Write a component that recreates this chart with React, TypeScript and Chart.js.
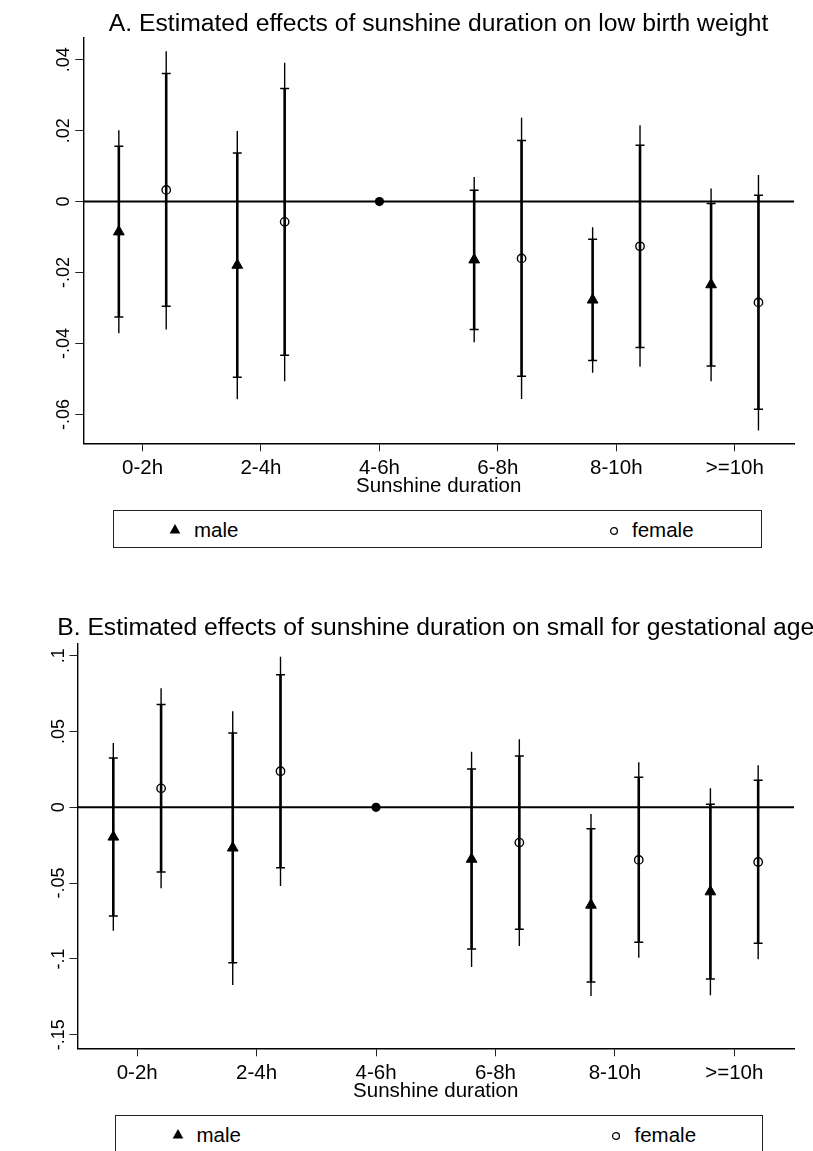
import React, { useEffect, useRef } from "react";
import { Chart, registerables } from "chart.js";

Chart.register(...registerables);

const FONT = '"Liberation Sans", Arial, Helvetica, sans-serif';
Chart.defaults.font.family = FONT;
Chart.defaults.color = "#000";

// ---------------- data ----------------
const categories = ["0-2h", "2-4h", "4-6h", "6-8h", "8-10h", ">=10h"];
const axisTitle = "Sunshine duration";
const legendLabels = ["male", "female"];
const referenceEst = [null, null, 0, null, null, null];

// Panel A: low birth weight
const titleA = "A. Estimated effects of sunshine duration on low birth weight";
const yTicksA = [-0.06, -0.04, -0.02, 0, 0.02, 0.04];
const yTickLabelsA = ["-.06", "-.04", "-.02", "0", ".02", ".04"];
const maleEstA = [-0.0085, -0.0179, null, -0.0164, -0.0277, -0.0234];
const maleLo90A = [-0.0325, -0.0495, null, -0.036, -0.0448, -0.0463];
const maleHi90A = [0.0156, 0.0137, null, 0.0032, -0.0106, -0.0005];
const maleLo95A = [-0.0371, -0.0557, null, -0.0396, -0.0482, -0.0506];
const maleHi95A = [0.0201, 0.0199, null, 0.0069, -0.0072, 0.0037];
const femaleEstA = [0.0033, -0.0057, null, -0.016, -0.0126, -0.0284];
const femaleLo90A = [-0.0295, -0.0433, null, -0.0492, -0.0411, -0.0585];
const femaleHi90A = [0.0361, 0.0319, null, 0.0172, 0.0159, 0.0018];
const femaleLo95A = [-0.036, -0.0506, null, -0.0556, -0.0465, -0.0645];
const femaleHi95A = [0.0424, 0.0391, null, 0.0236, 0.0215, 0.0075];

// Panel B: small for gestational age
const titleB = "B. Estimated effects of sunshine duration on small for gestational age";
const yTicksB = [-0.15, -0.1, -0.05, 0, 0.05, 0.1];
const yTickLabelsB = ["-.15", "-.1", "-.05", "0", ".05", ".1"];
const maleEstB = [-0.0196, -0.0268, null, -0.0342, -0.0645, -0.0557];
const maleLo90B = [-0.0717, -0.1025, null, -0.0935, -0.1152, -0.1133];
const maleHi90B = [0.0325, 0.049, null, 0.0253, -0.0141, 0.002];
const maleLo95B = [-0.0814, -0.1172, null, -0.1053, -0.1245, -0.124];
const maleHi95B = [0.0424, 0.0633, null, 0.0367, -0.0044, 0.0125];
const femaleEstB = [0.0125, 0.0238, null, -0.0233, -0.0347, -0.0361];
const femaleLo90B = [-0.0427, -0.0398, null, -0.0805, -0.089, -0.0897];
const femaleHi90B = [0.0679, 0.0875, null, 0.0338, 0.0198, 0.0178];
const femaleLo95B = [-0.0534, -0.0519, null, -0.0915, -0.0992, -0.1003];
const femaleHi95B = [0.0785, 0.0993, null, 0.0449, 0.0297, 0.0277];

// ---------------- layout ----------------
const MALE_OFFSET = -0.2;
const FEMALE_OFFSET = 0.2;
const X_MIN = 0.5;
const X_MAX = 6.5;
const LABEL_SIZE = 20.5;
const TITLE_SIZE = 24.7;

type Series = { est: (number | null)[]; lo90: (number | null)[]; hi90: (number | null)[]; lo95: (number | null)[]; hi95: (number | null)[] };
type PanelSpec = {
  title: string;
  yTicks: number[];
  yTickLabels: string[];
  yMin: number;
  yMax: number;
  male: Series;
  female: Series;
  top: number;
  canvasH: number;
  padTop: number;
  padBottom: number;
  yWidth: number;
  titleBaseline: number;
  legendTop: number;
  legendLeft: number;
  legendWidth: number;
};

const panels: PanelSpec[] = [
  {
    title: titleA,
    yTicks: yTicksA,
    yTickLabels: yTickLabelsA,
    yMin: -0.0681,
    yMax: 0.0461,
    male: { est: maleEstA, lo90: maleLo90A, hi90: maleHi90A, lo95: maleLo95A, hi95: maleHi95A },
    female: { est: femaleEstA, lo90: femaleLo90A, hi90: femaleHi90A, lo95: femaleLo95A, hi95: femaleHi95A },
    top: 0,
    canvasH: 575,
    padTop: 38,
    padBottom: 76,
    yWidth: 83.3,
    titleBaseline: 30.5,
    legendTop: 510,
    legendLeft: 112.5,
    legendWidth: 649,
  },
  {
    title: titleB,
    yTicks: yTicksB,
    yTickLabels: yTickLabelsB,
    yMin: -0.159,
    yMax: 0.1082,
    male: { est: maleEstB, lo90: maleLo90B, hi90: maleHi90B, lo95: maleLo95B, hi95: maleHi95B },
    female: { est: femaleEstB, lo90: femaleLo90B, hi90: femaleHi90B, lo95: femaleLo95B, hi95: femaleHi95B },
    top: 595,
    canvasH: 556,
    padTop: 48.3,
    padBottom: 47,
    yWidth: 77.5,
    titleBaseline: 39.5,
    legendTop: 1115,
    legendLeft: 115,
    legendWidth: 648,
  },
];

function segments(lo: (number | null)[], hi: (number | null)[], off: number) {
  const pts: { x: number; y: number | null }[] = [];
  lo.forEach((l, i) => {
    const h = hi[i];
    if (l == null || h == null) return;
    const x = i + 1 + off;
    pts.push({ x, y: l }, { x, y: h }, { x, y: null });
  });
  return pts;
}
function ends(lo: (number | null)[], hi: (number | null)[], off: number) {
  const pts: { x: number; y: number }[] = [];
  lo.forEach((l, i) => {
    const h = hi[i];
    if (l == null || h == null) return;
    const x = i + 1 + off;
    pts.push({ x, y: l }, { x, y: h });
  });
  return pts;
}
function points(est: (number | null)[], off: number) {
  const pts: { x: number; y: number }[] = [];
  est.forEach((v, i) => {
    if (v == null) return;
    pts.push({ x: i + 1 + off, y: v });
  });
  return pts;
}

function PanelChart({ p }: { p: PanelSpec }) {
  const ref = useRef<HTMLCanvasElement>(null);
  useEffect(() => {
    const canvas = ref.current!;
    const datasets: any[] = [
      {
        label: "reference",
        data: points(referenceEst, 0),
        pointStyle: "circle",
        pointRadius: 4.6,
        backgroundColor: "#000",
        borderColor: "#000",
        borderWidth: 0,
      },
      {
        label: legendLabels[0],
        data: points(p.male.est, MALE_OFFSET),
        pointStyle: "triangle",
        pointRadius: 6.2,
        backgroundColor: "#000",
        borderColor: "#000",
        borderWidth: 1,
      },
      {
        label: legendLabels[1],
        data: points(p.female.est, FEMALE_OFFSET),
        pointStyle: "circle",
        pointRadius: 4.2,
        backgroundColor: "rgba(0,0,0,0)",
        borderColor: "#000",
        borderWidth: 1.4,
      },
      {
        label: "caps",
        data: [...ends(p.male.lo90, p.male.hi90, MALE_OFFSET), ...ends(p.female.lo90, p.female.hi90, FEMALE_OFFSET)],
        pointStyle: "line",
        pointRadius: 4.5,
        borderColor: "#000",
        backgroundColor: "#000",
        borderWidth: 1.5,
      },
      {
        label: "ci90",
        data: [...segments(p.male.lo90, p.male.hi90, MALE_OFFSET), ...segments(p.female.lo90, p.female.hi90, FEMALE_OFFSET)],
        showLine: true,
        spanGaps: false,
        pointRadius: 0,
        borderColor: "#000",
        borderWidth: 2.6,
      },
      {
        label: "ci95",
        data: [...segments(p.male.lo95, p.male.hi95, MALE_OFFSET), ...segments(p.female.lo95, p.female.hi95, FEMALE_OFFSET)],
        showLine: true,
        spanGaps: false,
        pointRadius: 0,
        borderColor: "#000",
        borderWidth: 1.4,
      },
      {
        label: "zero",
        data: [
          { x: X_MIN, y: 0 },
          { x: X_MAX, y: 0 },
        ],
        showLine: true,
        pointRadius: 0,
        borderColor: "#000",
        borderWidth: 2,
      },
    ];

    const decor = {
      id: "decor",
      afterDraw(chart: any) {
        const ctx = chart.ctx;
        const ys = chart.scales.y;
        const ca = chart.chartArea;
        ctx.save();
        ctx.fillStyle = "#000";
        ctx.font = `18px ${FONT}`;
        ctx.textAlign = "center";
        ctx.textBaseline = "alphabetic";
        p.yTicks.forEach((v, i) => {
          const py = ys.getPixelForValue(v);
          ctx.save();
          ctx.translate(ca.left - 14, py);
          ctx.rotate(-Math.PI / 2);
          ctx.fillText(p.yTickLabels[i], 0, 0);
          ctx.restore();
        });
        ctx.font = `${TITLE_SIZE}px ${FONT}`;
        ctx.textAlign = "center";
        ctx.fillText(p.title, (ca.left + ca.right) / 2, p.titleBaseline);
        ctx.restore();
      },
    };

    const chart = new Chart(canvas, {
      type: "scatter",
      data: { datasets },
      plugins: [decor],
      options: {
        animation: false,
        responsive: false,
        events: [],
        layout: { padding: { left: 0, right: 19, top: p.padTop, bottom: p.padBottom } },
        plugins: { legend: { display: false }, tooltip: { enabled: false }, title: { display: false } },
        scales: {
          x: {
            type: "linear",
            min: X_MIN,
            max: X_MAX,
            afterBuildTicks: (s: any) => {
              s.ticks = categories.map((_, i) => ({ value: i + 1 }));
            },
            afterFit: (s: any) => {
              s.height = 55.7;
            },
            ticks: {
              autoSkip: false,
              maxRotation: 0,
              padding: 4.5,
              color: "#000",
              font: { size: LABEL_SIZE },
              callback: (v: any) => categories[Math.round(Number(v)) - 1],
            },
            grid: { drawOnChartArea: false, drawTicks: true, tickLength: 8, color: "#222", lineWidth: 1 },
            border: { display: true, color: "#000", width: 1.4 },
            title: { display: true, text: axisTitle, color: "#000", font: { size: LABEL_SIZE }, padding: { top: 0, bottom: 0 } },
          },
          y: {
            type: "linear",
            min: p.yMin,
            max: p.yMax,
            afterBuildTicks: (s: any) => {
              s.ticks = p.yTicks.map((v) => ({ value: v }));
            },
            afterFit: (s: any) => {
              s.width = p.yWidth;
            },
            ticks: { display: false },
            grid: { drawOnChartArea: false, drawTicks: true, tickLength: 8, color: "#222", lineWidth: 1 },
            border: { display: true, color: "#000", width: 1.4 },
          },
        },
      } as any,
    });
    return () => chart.destroy();
  }, []);
  return (
    <canvas
      ref={ref}
      width={813}
      height={p.canvasH}
      style={{ position: "absolute", left: 0, top: p.top, width: 813, height: p.canvasH }}
    />
  );
}

function Legend({ p }: { p: PanelSpec }) {
  const h = 38;
  const cy = h / 2;
  const textStyle: React.CSSProperties = {
    position: "absolute",
    top: cy - 12,
    height: 24,
    lineHeight: "24px",
    fontSize: LABEL_SIZE,
    fontFamily: FONT,
    color: "#000",
    whiteSpace: "nowrap",
  };
  const triX = 61.5;
  const circX = 500;
  return (
    <div
      style={{
        position: "absolute",
        left: p.legendLeft,
        top: p.legendTop,
        width: p.legendWidth,
        height: h,
        border: "1px solid #222",
        boxSizing: "border-box",
        background: "#fff",
      }}
    >
      <svg width={14} height={14} style={{ position: "absolute", left: triX - 7, top: cy - 8 }}>
        <polygon points="7,2 12.3,11.5 1.7,11.5" fill="#000" />
      </svg>
      <span style={{ ...textStyle, left: triX + 19 }}>{legendLabels[0]}</span>
      <svg width={12} height={12} style={{ position: "absolute", left: circX - 6, top: cy - 5.5 }}>
        <circle cx={6} cy={6} r={3.4} fill="none" stroke="#000" strokeWidth={1.3} />
      </svg>
      <span style={{ ...textStyle, left: circX + 18.5 }}>{legendLabels[1]}</span>
    </div>
  );
}

export default function App() {
  return (
    <div
      style={{
        position: "absolute",
        left: 0,
        top: 0,
        width: 813,
        height: 1151,
        overflow: "hidden",
        background: "#fff",
      }}
    >
      {panels.map((p, i) => (
        <React.Fragment key={i}>
          <PanelChart p={p} />
          <Legend p={p} />
        </React.Fragment>
      ))}
    </div>
  );
}
